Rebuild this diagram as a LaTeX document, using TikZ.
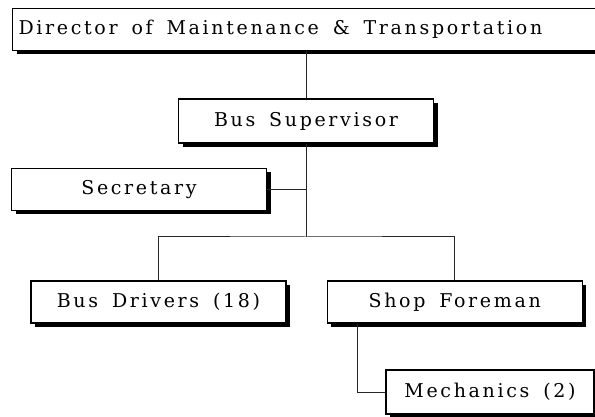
\documentclass[tikz,border=0pt]{standalone}
\usepackage{fontspec}
\setmainfont{DejaVu Serif}[LetterSpace=14, WordSpace=1.6]
\usetikzlibrary{positioning,shadows}

\begin{document}
\begin{tikzpicture}[x=1pt, y=-1pt,
    box/.style={draw, line width=1.2pt, fill=white, minimum width=255pt, minimum height=42pt, inner sep=0pt, align=center, font=\fontsize{19}{23}\selectfont,
        drop shadow={shadow xshift=4pt, shadow yshift=-4pt, fill=black, opacity=1}},
    line/.style={line width=1pt, black!85}
]
\useasboundingbox (0,0) rectangle (595,417);
\clip (0,0) rectangle (595,417);
\fill[white] (0,0) rectangle (595,417);
\node[box, anchor=west, text width=590pt, align=left, inner xsep=6pt] (Dir) at (12,29.5) {\spaceskip=0pt Director of Maintenance \& Transportation};
\node[box, minimum height=44pt] (Sup) at (306,121) {Bus Supervisor};
\node[box] (Sec) at (139,189.5) {Secretary};
\node[box] (Drv) at (158.5,302) {Bus Drivers (18)};
\node[box, right=40pt of Drv] (Shop) {Shop Foreman};
\node[box, minimum width=208pt, minimum height=44pt] (Mech) at (490,392) {Mechanics (2)};
\coordinate (Hub) at (306,237);
\draw[line] (Dir.south -| Hub) -- (Sup.north);
\draw[line] (Sup.south) -- (Hub);
\draw[line] (Sec.east) -- (Sec.east -| Hub);
\draw[line] (Drv.north) |- (Hub) -| (Shop.north);
\draw[line] ([xshift=31pt]Shop.south west) |- (Mech.west);
\end{tikzpicture}
\end{document}
